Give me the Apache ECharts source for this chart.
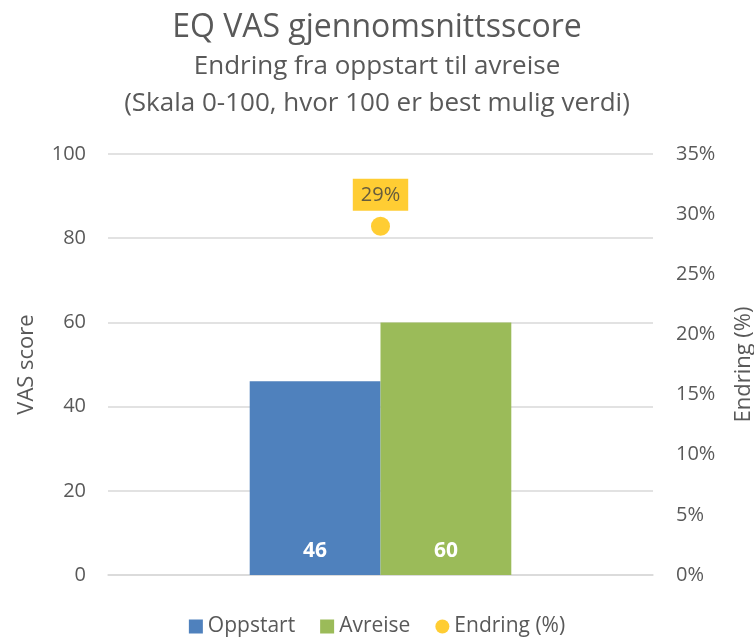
<!DOCTYPE html>
<html lang="no">
<head>
    <meta charset="UTF-8">
    <title>EQ VAS</title>
    <script src="https://cdn.jsdelivr.net/npm/echarts@6/dist/echarts.min.js"></script>
    <style>
        body { margin: 0; background: #fff; }
    </style>
</head>
<body>
    <div id="main" style="width: 754px;height:642px;"></div>
    <script>
        const kategorier = [''];
        const oppstart = [46];
        const avreise = [60];
        const endring = [29];
        const venstreTicks = [0, 20, 40, 60, 80, 100];
        const hoyreTicks = [0, 5, 10, 15, 20, 25, 30, 35];

        const font = 'Open Sans';
        const grå = '#595959';

        let myChart = echarts.init(document.getElementById('main'));
        let option = {
            animation: false,
            textStyle: { fontFamily: font },
            title: {
                left: 'center',
                top: 7,
                text: 'EQ VAS gjennomsnittsscore',
                subtext: 'Endring fra oppstart til avreise\n(Skala 0-100, hvor 100 er best mulig verdi)',
                itemGap: 4,
                textStyle: { fontFamily: font, fontSize: 32, fontWeight: 'normal', color: grå },
                subtextStyle: { fontFamily: font, fontSize: 26, color: grå, lineHeight: 37 }
            },
            legend: {
                bottom: 0,
                left: 'center',
                itemWidth: 14,
                itemHeight: 14,
                itemGap: 25,
                textStyle: { fontFamily: font, fontSize: 21, color: grå },
                data: [
                    { name: 'Oppstart', icon: 'rect' },
                    { name: 'Avreise', icon: 'rect' },
                    { name: 'Endring (%)', icon: 'circle' }
                ]
            },
            grid: { left: 108, right: 101, top: 154, bottom: 67, outerBoundsMode: 'none' },
            xAxis: {
                type: 'category',
                data: kategorier,
                axisLabel: { show: false },
                axisTick: { show: false },
                axisLine: { lineStyle: { color: '#d9d9d9', width: 1.5 } }
            },
            yAxis: [
                {
                    type: 'value',
                    min: venstreTicks[0],
                    max: venstreTicks[venstreTicks.length - 1],
                    interval: 20,
                    name: 'VAS score',
                    nameLocation: 'middle',
                    nameGap: 70,
                    nameRotate: 90,
                    nameTextStyle: { fontFamily: font, fontSize: 22, color: grå },
                    axisLabel: { fontFamily: font, fontSize: 20, color: grå, margin: 22 },
                    axisLine: { show: false },
                    axisTick: { show: false },
                    splitLine: { lineStyle: { color: '#d9d9d9', width: 1.5 } }
                },
                {
                    type: 'value',
                    min: hoyreTicks[0],
                    max: hoyreTicks[hoyreTicks.length - 1],
                    interval: 5,
                    name: 'Endring (%)',
                    nameLocation: 'middle',
                    nameGap: 80,
                    nameRotate: 90,
                    nameTextStyle: { fontFamily: font, fontSize: 22, color: grå },
                    axisLabel: { fontFamily: font, fontSize: 20, color: grå, margin: 23, formatter: '{value}%' },
                    axisLine: { show: false },
                    axisTick: { show: false },
                    splitLine: { show: false }
                }
            ],
            series: [
                {
                    name: 'Oppstart',
                    type: 'bar',
                    data: oppstart,
                    barGap: '0%',
                    barCategoryGap: '52%',
                    itemStyle: { color: '#4f81bd' },
                    label: {
                        show: true,
                        position: 'insideBottom',
                        distance: 13,
                        color: '#fff',
                        fontFamily: font,
                        fontSize: 21,
                        fontWeight: 'bold'
                    }
                },
                {
                    name: 'Avreise',
                    type: 'bar',
                    data: avreise,
                    itemStyle: { color: '#9bbb59' },
                    label: {
                        show: true,
                        position: 'insideBottom',
                        distance: 13,
                        color: '#fff',
                        fontFamily: font,
                        fontSize: 21,
                        fontWeight: 'bold'
                    }
                },
                {
                    name: 'Endring (%)',
                    type: 'scatter',
                    yAxisIndex: 1,
                    data: endring,
                    symbolSize: 19,
                    itemStyle: { color: '#ffc000' },
                    label: {
                        show: true,
                        position: 'top',
                        distance: 6,
                        formatter: '{c}%',
                        backgroundColor: '#ffc000',
                        padding: [7, 8, 5, 8],
                        color: '#404040',
                        fontFamily: font,
                        fontSize: 20
                    }
                }
            ]
        };
        myChart.setOption(option);
    </script>
</body>
</html>
